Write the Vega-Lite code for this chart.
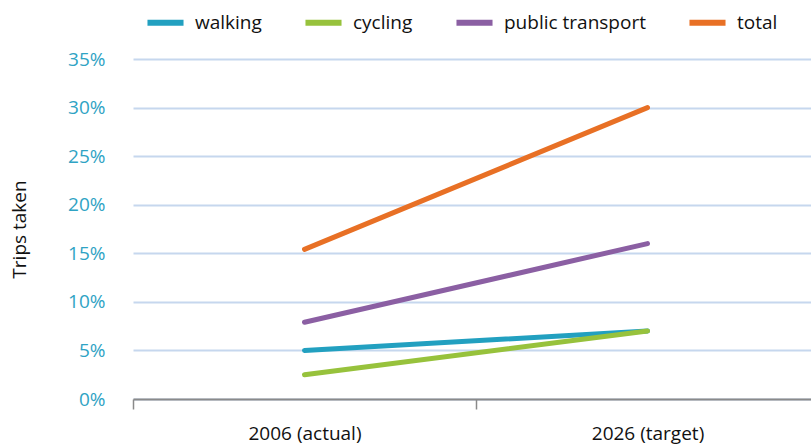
{
  "$schema": "https://vega.github.io/schema/vega-lite/v6.json",
  "width": 678,
  "height": 340,
  "autosize": {"type": "none"},
  "padding": {"left": 133, "top": 59, "right": 0, "bottom": 47},
  "background": "white",
  "config": {
    "font": "Open Sans",
    "view": {"stroke": null}
  },
  "data": {
    "values": [
      {"year": "2006 (actual)", "mode": "walking", "share": 0.050},
      {"year": "2026 (target)", "mode": "walking", "share": 0.070},
      {"year": "2006 (actual)", "mode": "cycling", "share": 0.025},
      {"year": "2026 (target)", "mode": "cycling", "share": 0.070},
      {"year": "2006 (actual)", "mode": "public transport", "share": 0.079},
      {"year": "2026 (target)", "mode": "public transport", "share": 0.160},
      {"year": "2006 (actual)", "mode": "total", "share": 0.154},
      {"year": "2026 (target)", "mode": "total", "share": 0.300}
    ]
  },
  "mark": {"type": "line", "strokeWidth": 5, "strokeCap": "round"},
  "encoding": {
    "x": {
      "field": "year",
      "type": "ordinal",
      "scale": {"type": "band", "paddingInner": 0, "paddingOuter": 0, "range": [0, 686]},
      "axis": {
        "title": null,
        "labelAngle": 0,
        "labelColor": "#111",
        "labelFontSize": 19,
        "labelPadding": 15,
        "domainColor": "#8a8a8a",
        "domainWidth": 2,
        "tickColor": "#8a8a8a",
        "tickWidth": 1.5,
        "tickSize": 10,
        "tickBand": "extent",
        "grid": false
      }
    },
    "y": {
      "field": "share",
      "type": "quantitative",
      "scale": {"domain": [0, 0.35], "nice": false},
      "axis": {
        "values": [0, 0.05, 0.1, 0.15, 0.2, 0.25, 0.3, 0.35],
        "format": ".0%",
        "title": "Trips taken",
        "titleFontSize": 19,
        "titleFontWeight": "normal",
        "titleColor": "#111",
        "titlePadding": 38,
        "labelColor": "#2fa3c4",
        "labelFontSize": 19,
        "labelPadding": 28,
        "domain": false,
        "ticks": false,
        "grid": true,
        "gridColor": "#c6d7ee",
        "gridWidth": 2
      }
    },
    "color": {
      "field": "mode",
      "type": "nominal",
      "scale": {
        "domain": ["walking", "cycling", "public transport", "total"],
        "range": ["#22a0c0", "#97c23c", "#8b5fa3", "#e87025"]
      },
      "legend": {
        "title": null,
        "orient": "none",
        "legendX": 11,
        "legendY": -58,
        "direction": "horizontal",
        "symbolType": "stroke",
        "symbolSize": 1300,
        "symbolStrokeWidth": 6,
        "labelFontSize": 19,
        "labelColor": "#111",
        "labelOffset": 8,
        "columnPadding": 31,
        "labelLimit": 300
      }
    }
  }
}
